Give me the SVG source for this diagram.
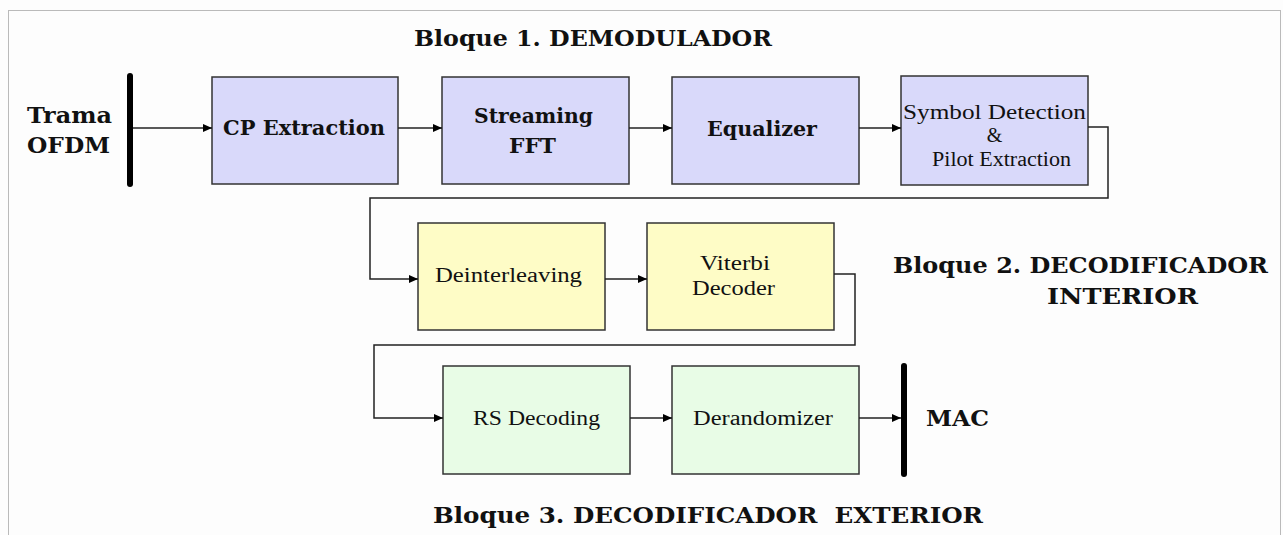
<svg xmlns="http://www.w3.org/2000/svg" width="1283" height="535" viewBox="0 0 1283 535">
<style>
.bg{fill:#fdfdfd}
.frame{fill:none;stroke:#777;stroke-width:1;stroke-dasharray:1 1}
.b1{fill:#d9d9fa;stroke:#333;stroke-width:1.5}
.b2{fill:#fefcc6;stroke:#333;stroke-width:1.5}
.b3{fill:#e8fce6;stroke:#333;stroke-width:1.5}
.bar{stroke:#000;stroke-width:6;stroke-linecap:round}
.hb{font-family:"DejaVu Serif","Liberation Serif",serif;font-weight:bold;fill:#111}
.lb{font-family:"DejaVu Serif","Liberation Serif",serif;font-weight:bold;fill:#111;font-size:21px}
.lr{font-family:"Liberation Serif","DejaVu Serif",serif;fill:#111;font-size:20px}
.conn path{fill:none;stroke:#222;stroke-width:1.5;marker-end:url(#ah)}
</style>
<defs>
<marker id="ah" markerWidth="9" markerHeight="8" refX="9" refY="4" orient="auto" markerUnits="userSpaceOnUse">
<path d="M0,0 L9,4 L0,8 Z" fill="#000"/>
</marker>
</defs>
<rect class="bg" x="0" y="0" width="1283" height="535"/>
<rect class="frame" x="8.5" y="10.5" width="1272" height="540"/>

<g id="title1"><text class="hb" x="414" y="46" font-size="23" textLength="358" lengthAdjust="spacingAndGlyphs">Bloque 1. DEMODULADOR</text></g>
<g id="title2"><text class="hb" x="893" y="273" font-size="23" textLength="375" lengthAdjust="spacingAndGlyphs">Bloque 2. DECODIFICADOR</text>
<text class="hb" x="1047" y="304" font-size="23" textLength="151" lengthAdjust="spacingAndGlyphs">INTERIOR</text></g>
<g id="title3"><text class="hb" x="433" y="523" font-size="22" textLength="550" lengthAdjust="spacingAndGlyphs" xml:space="preserve">Bloque 3. DECODIFICADOR  EXTERIOR</text></g>

<g id="input">
<text class="hb" x="27" y="123" font-size="23" textLength="85" lengthAdjust="spacingAndGlyphs">Trama</text>
<text class="hb" x="27" y="153" font-size="23" textLength="83" lengthAdjust="spacingAndGlyphs">OFDM</text>
<line class="bar" x1="130" y1="76" x2="130" y2="184"/>
</g>

<g id="cp"><rect class="b1" x="212" y="77" width="186" height="107"/>
<text class="lb" x="223" y="135" textLength="162" lengthAdjust="spacingAndGlyphs">CP Extraction</text></g>

<g id="fft"><rect class="b1" x="442" y="77" width="187" height="107"/>
<text class="lb" x="474" y="123" textLength="119" lengthAdjust="spacingAndGlyphs">Streaming</text>
<text class="lb" x="509" y="153" textLength="47" lengthAdjust="spacingAndGlyphs">FFT</text></g>

<g id="eq"><rect class="b1" x="672" y="77" width="187" height="107"/>
<text class="lb" x="707" y="136" textLength="110" lengthAdjust="spacingAndGlyphs">Equalizer</text></g>

<g id="sym"><rect class="b1" x="901" y="76" width="187" height="109"/>
<text class="lr" x="903" y="119" textLength="183" lengthAdjust="spacingAndGlyphs">Symbol Detection</text>
<text class="lr" x="994.5" y="142" text-anchor="middle">&amp;</text>
<text class="lr" x="932" y="166" textLength="139" lengthAdjust="spacingAndGlyphs">Pilot Extraction</text></g>

<g id="deint"><rect class="b2" x="418" y="223" width="187" height="107"/>
<text class="lr" x="435" y="282" textLength="147" lengthAdjust="spacingAndGlyphs">Deinterleaving</text></g>

<g id="viterbi"><rect class="b2" x="647" y="223" width="187" height="107"/>
<text class="lr" x="700" y="270" textLength="70" lengthAdjust="spacingAndGlyphs">Viterbi</text>
<text class="lr" x="692" y="295" textLength="83" lengthAdjust="spacingAndGlyphs">Decoder</text></g>

<g id="rs"><rect class="b3" x="443" y="366" width="187" height="108"/>
<text class="lr" x="473" y="425" textLength="127" lengthAdjust="spacingAndGlyphs">RS Decoding</text></g>

<g id="derand"><rect class="b3" x="672" y="366" width="187" height="108"/>
<text class="lr" x="693" y="425" textLength="140" lengthAdjust="spacingAndGlyphs">Derandomizer</text></g>

<g id="output">
<line class="bar" x1="904" y1="366" x2="904" y2="474"/>
<text class="hb" x="926" y="426" font-size="22" textLength="63" lengthAdjust="spacingAndGlyphs">MAC</text>
</g>

<g id="connectors" class="conn">
<path d="M133,128 H212"/>
<path d="M398,128 H442"/>
<path d="M629,128 H672"/>
<path d="M859,128 H901"/>
<path d="M1088,127 H1108 V198 H370 V279 H418"/>
<path d="M605,279 H647"/>
<path d="M834,274 H855 V345 H374 V418 H443"/>
<path d="M630,418 H672"/>
<path d="M859,418 H901"/>
</g>
</svg>
